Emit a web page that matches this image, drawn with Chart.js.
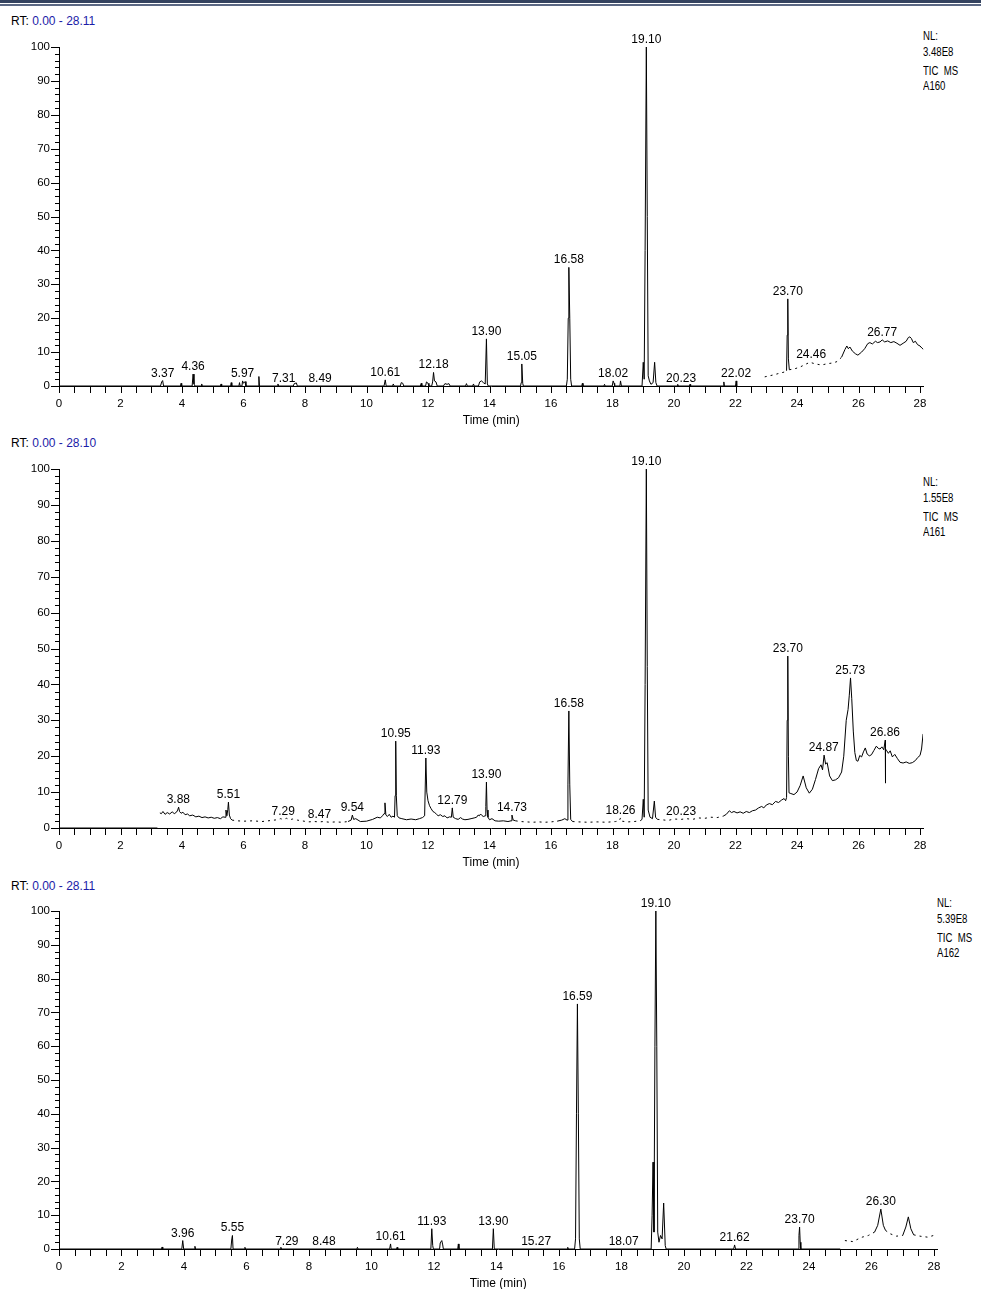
<!DOCTYPE html>
<html><head><meta charset="utf-8">
<script src="https://cdn.jsdelivr.net/npm/chart.js@4.4.1/dist/chart.umd.min.js"></script>
<style>
html,body{margin:0;padding:0;background:#fff;width:981px;height:1289px;overflow:hidden;position:relative;font-family:"Liberation Sans",Arial,sans-serif;}
.bar1{position:absolute;left:0;top:0;width:981px;height:3px;background:#34425f}
.bar2{position:absolute;left:0;top:4px;width:981px;height:2px;background:#5b6884}
.rt{position:absolute;left:11px;font-size:12px;color:#000;white-space:nowrap;line-height:14px}
.rt span{color:#1c1ca8}
.nl{position:absolute;font-size:12px;line-height:14px;color:#000;transform:scaleX(0.8);transform-origin:0 0;white-space:pre}
canvas{position:absolute;left:0}
</style></head>
<body>
<div class="bar1"></div><div class="bar2"></div>
<div id="texts"></div>
<canvas id="c1" width="981" height="430" style="top:0px"></canvas>
<canvas id="c2" width="981" height="442" style="top:430px"></canvas>
<canvas id="c3" width="981" height="418" style="top:875px"></canvas>
<script>
// ---------- DATA ----------
const traceA160 = [
[0,0],[3.30,0],[3.34,1.2],[3.37,1.6],[3.40,0],
[3.95,0],[3.97,0.8],[3.99,0],
[4.33,0],[4.36,3.5],[4.39,0.6],[4.42,0],
[4.62,0],[4.64,0.6],[4.66,0],
[5.25,0],[5.27,0.6],[5.29,0],
[5.58,0],[5.60,1.0],[5.62,0],
[5.85,0],[5.87,1.0],[5.89,0],
[5.95,0],[5.97,1.5],[6.00,0.8],[6.05,1.3],[6.08,0],
[6.48,0],[6.50,2.8],[6.52,0],
[7.10,0],[7.12,0.6],[7.14,0],
[7.62,0],[7.65,0.7],[7.72,0.9],[7.75,0],
[10.57,0],[10.61,1.8],[10.64,0],
[10.85,0],[10.87,0.6],[10.90,0],
[11.10,0],[11.13,1.0],[11.18,0.8],[11.21,0],
[11.75,0],[11.78,0.8],[11.80,0],
[11.92,0],[11.95,1.2],[12.00,0.8],[12.03,0],
[12.12,0],[12.15,1.2],[12.18,4.0],[12.21,1.5],[12.26,1.2],[12.30,0],
[12.50,0],[12.55,0.7],[12.62,0.5],[12.68,0.7],[12.72,0],
[13.22,0],[13.25,0.7],[13.28,0],
[13.45,0],[13.48,0.6],[13.50,0],
[13.64,0],[13.68,1.2],[13.74,1.5],[13.80,1.0],[13.86,0.6],[13.90,13.9],[13.93,0.6],[13.96,0],
[15.01,0],[15.03,1.0],[15.05,6.5],[15.08,0.8],[15.10,0],
[16.50,0],[16.53,2.0],[16.56,20],[16.58,35.0],[16.61,20],[16.64,2.0],[16.67,0],
[17.00,0],[17.02,0.8],[17.04,0],
[17.72,0],[17.74,0.5],[17.76,0],
[17.99,0],[18.02,1.5],[18.05,0.8],[18.07,0],
[18.24,0],[18.26,1.5],[18.29,0],
[18.96,0],[19.00,7.0],[19.03,2.0],[19.06,40],[19.10,100],[19.13,50],[19.16,3.0],[19.20,1.5],[19.25,0.5],[19.32,1.0],[19.37,7.0],[19.41,1.0],[19.45,0],
[20.10,0],[20.12,0.5],[20.14,0],
[20.50,0],[20.52,0.5],[20.54,0],
[21.60,0],[21.62,1.2],[21.64,0],
[22.00,0],[22.02,1.5],[22.04,0],
[22.85,null],
[22.95,2.7],[23.2,3.2],[23.45,3.8],[23.62,4.2],[23.66,4.5],[23.68,15],[23.70,25.7],[23.72,8],[23.75,4.8],[23.9,5.0],[24.1,5.6],[24.3,6.5],[24.42,7.0],[24.6,6.5],[24.8,6.2],[25.0,6.6],[25.17,6.8],[25.3,7.2],[25.45,8.5],[25.56,10.8],[25.62,11.8],[25.67,11.0],[25.72,11.5],[25.8,10.3],[25.9,9.5],[25.98,9.1],[26.1,10.0],[26.2,11.0],[26.3,12.5],[26.37,12.8],[26.45,12.4],[26.55,13.2],[26.62,12.8],[26.7,13.0],[26.77,13.6],[26.85,13.0],[26.95,13.3],[27.05,12.8],[27.15,13.1],[27.25,12.6],[27.35,12.0],[27.45,12.6],[27.55,13.2],[27.62,14.3],[27.67,14.5],[27.72,14.0],[27.78,12.8],[27.85,13.2],[27.92,12.2],[28.0,11.8],[28.06,11.2],[28.11,10.8]
];
const traceA161 = [
[0,0],[3.2,0],[3.25,null],
[3.28,4.2],[3.33,4.0],[3.38,4.6],[3.45,3.8],[3.52,4.3],[3.6,3.9],[3.68,4.5],[3.75,4.0],[3.82,4.4],[3.86,5.0],[3.89,5.8],[3.92,4.6],[3.97,4.1],[4.03,4.4],[4.1,3.7],[4.18,3.9],[4.25,3.4],[4.35,3.6],[4.45,3.1],[4.55,3.3],[4.65,2.9],[4.75,3.1],[4.85,2.8],[4.95,3.0],[5.05,2.7],[5.15,2.9],[5.25,2.6],[5.33,3.1],[5.4,3.0],[5.43,5.0],[5.46,3.4],[5.49,5.2],[5.51,7.2],[5.54,3.6],[5.58,2.6],[5.63,2.2],
[5.8,2.0],[6.0,1.9],[6.3,2.0],[6.6,1.8],[6.9,2.1],[7.1,2.3],[7.2,2.6],[7.29,2.4],[7.4,2.7],[7.5,2.3],[7.6,2.5],[7.75,2.2],[7.9,2.0],[8.1,1.7],[8.3,1.8],[8.47,1.7],[8.6,1.8],[8.8,1.6],[9.0,1.7],[9.2,1.6],[9.4,1.8],
[9.5,2.2],[9.54,3.6],[9.58,2.4],[9.65,2.6],[9.8,1.8],[10.0,1.9],[10.2,2.4],[10.35,3.0],[10.45,2.8],[10.52,3.4],[10.57,4.0],[10.6,7.0],[10.63,3.6],[10.68,3.2],[10.74,3.8],[10.8,3.0],[10.86,3.3],[10.91,3.0],[10.93,9],[10.95,24.2],[10.97,9],[11.0,3.4],[11.06,2.8],[11.15,2.6],[11.3,2.3],[11.45,2.5],[11.6,2.3],[11.72,2.6],[11.82,2.9],[11.89,3.4],[11.93,19.5],[11.96,10],[12.0,7.6],[12.05,6.2],[12.1,5.4],[12.16,4.6],[12.22,4.3],[12.28,3.8],[12.33,3.4],[12.4,3.7],[12.48,3.2],[12.55,3.4],[12.62,2.8],[12.7,3.1],[12.76,3.0],[12.79,5.6],[12.82,3.0],[12.9,2.6],[12.98,2.4],[13.06,2.9],[13.12,2.5],[13.2,2.3],[13.3,2.4],[13.4,2.6],[13.5,2.8],[13.58,3.0],[13.63,3.6],[13.67,3.4],[13.71,3.9],[13.75,3.5],[13.8,3.2],[13.86,3.4],[13.88,6],[13.9,12.8],[13.92,5],[13.95,3],[14.0,2.3],[14.08,2.6],[14.18,2.0],[14.3,1.9],[14.45,2.0],[14.6,1.8],[14.7,2.0],[14.73,3.6],[14.77,2.2],[14.85,2.0],
[15.0,1.8],[15.2,1.7],[15.4,1.6],[15.6,1.7],[15.8,1.6],[16.0,1.7],[16.2,1.9],[16.35,2.2],[16.45,2.6],[16.52,2.2],[16.55,12],[16.58,32.6],[16.61,12],[16.64,2.4],[16.7,1.8],
[16.9,1.7],[17.2,1.6],[17.5,1.7],[17.8,1.6],[18.1,1.8],[18.22,2.0],[18.26,2.8],[18.3,1.9],[18.5,1.7],[18.7,1.8],[18.9,2.0],
[18.96,2.4],[19.0,8.0],[19.03,3.0],[19.06,40],[19.10,100],[19.13,45],[19.16,5],[19.22,3.0],[19.3,2.6],[19.36,7.5],[19.4,3.0],[19.46,2.4],
[19.6,2.3],[19.8,2.1],[20.0,2.5],[20.23,2.4],[20.4,2.6],[20.6,2.4],[20.8,2.8],[21.0,2.7],[21.2,3.0],[21.4,2.9],[21.6,3.3],
[21.7,3.8],[21.8,4.8],[21.87,4.3],[21.95,4.6],[22.05,4.2],[22.15,4.5],[22.25,4.1],[22.35,4.6],[22.45,4.3],[22.55,4.8],[22.65,5.0],[22.75,5.6],[22.85,6.0],[22.92,5.6],[23.0,6.4],[23.1,6.8],[23.2,6.5],[23.3,7.4],[23.4,7.1],[23.5,7.8],[23.58,8.2],[23.63,7.6],[23.66,8.5],[23.68,30],[23.70,47.9],[23.72,20],[23.74,9.8],[23.8,9.6],[23.9,9.3],[24.0,10.0],[24.1,11.8],[24.2,14.5],[24.3,11.2],[24.4,9.7],[24.5,10.8],[24.6,13.5],[24.7,16.5],[24.78,17.6],[24.83,16.2],[24.88,20.3],[24.93,17.8],[24.98,18.2],[25.06,14.5],[25.15,13.2],[25.25,13.4],[25.35,14.0],[25.45,15.6],[25.52,20],[25.6,30],[25.66,33],[25.7,37],[25.74,41.8],[25.78,36],[25.83,27],[25.88,21],[25.93,18.8],[25.98,18.6],[26.04,20.2],[26.1,19.8],[26.16,21.2],[26.22,22.3],[26.28,20.6],[26.35,20.1],[26.42,20.4],[26.5,21.6],[26.58,22.8],[26.64,22.2],[26.7,22.0],[26.76,22.6],[26.82,21.8],[26.87,24.5],[26.875,12.5],[26.88,22.0],[26.92,21.5],[26.97,20.8],[27.03,21.5],[27.1,19.8],[27.18,20.5],[27.26,19.4],[27.35,18.3],[27.45,18.1],[27.55,18.4],[27.65,18.0],[27.75,18.2],[27.85,18.8],[27.92,19.6],[28.0,20.2],[28.05,22.0],[28.1,26.2]
];
const traceA162 = [
[0,0],[3.28,0],[3.30,0.6],[3.32,0],
[3.93,0],[3.96,2.5],[3.99,0],
[4.33,0],[4.35,0.8],[4.37,0],
[5.50,0],[5.53,3.0],[5.55,4.0],[5.57,0],
[5.93,0],[5.95,0.5],[5.97,0],
[7.08,0],[7.10,0.5],[7.12,0],
[9.53,0],[9.55,0.5],[9.57,0],
[10.58,0],[10.61,1.5],[10.63,0],
[10.80,0],[10.82,0.5],[10.84,0],
[11.90,0],[11.93,6.0],[11.96,1.0],[11.98,0],
[12.18,0],[12.20,1.8],[12.25,2.5],[12.28,1.2],[12.30,0],
[12.76,0],[12.78,1.5],[12.80,0],
[13.87,0],[13.90,6.0],[13.93,0],
[16.26,0],[16.28,0.5],[16.30,0],
[16.50,0],[16.53,3.0],[16.56,40],[16.59,72.5],[16.62,40],[16.65,3.0],[16.68,0],
[18.95,0],[18.98,10],[19.01,25.7],[19.04,5],[19.07,60],[19.10,100],[19.13,60],[19.16,5],[19.20,2],[19.25,4],[19.30,3],[19.35,13.6],[19.40,1],[19.43,0],
[21.59,0],[21.62,1.2],[21.65,0],
[23.66,0],[23.68,4.0],[23.70,6.5],[23.72,2.0],[23.74,0],
[25.0,0],[25.05,null],
[25.15,2.5],[25.4,2.2],[25.7,3.5],[25.9,4.0],[26.1,5.0],[26.2,7.0],[26.3,11.8],[26.38,7.0],[26.45,5.5],[26.6,4.5],[26.8,3.8],[27.0,4.0],[27.1,6.5],[27.18,9.5],[27.26,6.0],[27.35,4.2],[27.55,3.8],[27.8,3.5],[28.1,4.3]
];
const peakLabelsA160 = ['3.37','4.36','5.97','7.31','8.49','10.61','12.18','13.90','15.05','16.58','18.02','19.10','20.23','22.02','23.70','24.46','26.77'];
const peakLabelsA161 = ['3.88','5.51','7.29','8.47','9.54','10.95','11.93','12.79','13.90','14.73','16.58','18.26','19.10','20.23','23.70','24.87','25.73','26.86'];
const peakLabelsA162 = ['3.96','5.55','7.29','8.48','10.61','11.93','13.90','15.27','16.59','18.07','19.10','21.62','23.70','26.30'];
const rtRanges = ['0.00 - 28.11','0.00 - 28.10','0.00 - 28.11'];
const rtMax = [28.11, 28.10, 28.11];
const nlValues = ['3.48E8','1.55E8','5.39E8'];
const sampleNames = ['A160','A161','A162'];

// ---------- LAYOUT ----------
const FONT = '"Liberation Sans", Arial, sans-serif';
const panels = [
  {id:'c1', trace:traceA160, labels:peakLabelsA160, top:0,   height:430, plotTop:47,  plotBottom:386,  plotRight:923.4, rtY:14,  nlX:923, nlY:29,  dotted:[[22.9,23.66],[23.75,25.5]]},
  {id:'c2', trace:traceA161, labels:peakLabelsA161, top:430, height:442, plotTop:469, plotBottom:828,  plotRight:923.1, rtY:436, nlX:923, nlY:475, dotted:[[5.6,9.45],[14.8,16.3],[16.68,18.92],[19.45,21.65]]},
  {id:'c3', trace:traceA162, labels:peakLabelsA162, top:875, height:418, plotTop:911, plotBottom:1249, plotRight:937.4, rtY:879, nlX:937, nlY:896, dotted:[[25.1,26.15],[26.45,27.05],[27.3,28.2]]}
];

const chromPlugin = {
  id: 'chrom',
  afterDraw(chart, args, opts) {
    const ctx = chart.ctx, xs = chart.scales.x, ys = chart.scales.y, a = chart.chartArea;
    ctx.save();
    ctx.strokeStyle = '#000'; ctx.lineWidth = 1;
    ctx.beginPath();
    xs.ticks.forEach(t => {
      const px = Math.round(xs.getPixelForValue(t.value)) + 0.5;
      ctx.moveTo(px, a.bottom); ctx.lineTo(px, a.bottom + 7);
    });
    ys.ticks.forEach(t => {
      const py = Math.round(ys.getPixelForValue(t.value)) + 0.5;
      const major = Math.abs(t.value % 10) < 1e-6;
      ctx.moveTo(a.left - (major ? 8 : 4), py); ctx.lineTo(a.left, py);
    });
    ctx.stroke();
    ctx.fillStyle = '#000';
    ctx.font = '12px ' + FONT;
    ctx.textAlign = 'center';
    ctx.textBaseline = 'alphabetic';
    const data = chart.data.datasets[0].data;
    opts.labels.forEach(lbl => {
      const t = parseFloat(lbl);
      let m = 0;
      data.forEach(p => { if (p.y !== null && Math.abs(p.x - t) <= 0.06 && p.y > m) m = p.y; });
      ctx.fillText(lbl, xs.getPixelForValue(t), ys.getPixelForValue(m) - 4);
    });
    ctx.textBaseline = 'middle';
    ctx.fillText('Time (min)', (a.left + a.right) / 2, a.bottom + 35);
    ctx.restore();
  }
};

const texts = document.getElementById('texts');
panels.forEach((p, i) => {
  const rt = document.createElement('div');
  rt.className = 'rt'; rt.style.top = p.rtY + 'px';
  rt.innerHTML = 'RT: <span>' + rtRanges[i] + '</span>';
  texts.appendChild(rt);
  const lines = ['NL:', nlValues[i], 'TIC  MS', sampleNames[i]];
  const offs = [0, 15.5, 35, 50];
  lines.forEach((s, j) => {
    const d = document.createElement('div');
    d.className = 'nl'; d.textContent = s;
    d.style.left = p.nlX + 'px'; d.style.top = (p.nlY + offs[j]) + 'px';
    texts.appendChild(d);
  });

  const inDotted = (x0, x1) => p.dotted.some(r => x0 >= r[0] && x1 <= r[1]);
  new Chart(document.getElementById(p.id), {
    type: 'line',
    data: { datasets: [{
      data: p.trace.map(d => ({x: d[0], y: d[1]})),
      borderColor: '#000', borderWidth: 1, pointRadius: 0, tension: 0, fill: false, spanGaps: false,
      segment: { borderDash: c => inDotted(c.p0.parsed.x, c.p1.parsed.x) ? [2, 4] : undefined }
    }]},
    options: {
      responsive: false, animation: false, events: [],
      layout: { padding: { top: p.plotTop - p.top, right: 981 - p.plotRight, left: 0, bottom: 0 } },
      plugins: { legend: {display: false}, tooltip: {enabled: false}, chrom: { labels: p.labels } },
      scales: {
        x: {
          type: 'linear', min: 0, max: rtMax[i],
          afterFit: s => { s.height = p.height - (p.plotBottom - p.top); },
          grid: { display: false, drawTicks: false },
          border: { display: true, color: '#000', width: 1 },
          ticks: { stepSize: 0.5, includeBounds: false, autoSkip: false, maxRotation: 0, minRotation: 0, padding: 11,
                   color: '#000', font: { size: 11.5, family: FONT },
                   callback: v => (Math.abs(v % 2) < 1e-6 ? String(Math.round(v)) : '') }
        },
        y: {
          min: 0, max: 100,
          afterFit: s => { s.width = 59; },
          grid: { display: false, drawTicks: false },
          border: { display: true, color: '#000', width: 1 },
          ticks: { stepSize: 2, autoSkip: false, padding: 9, color: '#000', font: { size: 11.5, family: FONT },
                   callback: v => (v % 10 === 0 ? String(v) : '') }
        }
      }
    },
    plugins: [chromPlugin]
  });
});
</script>
</body></html>
